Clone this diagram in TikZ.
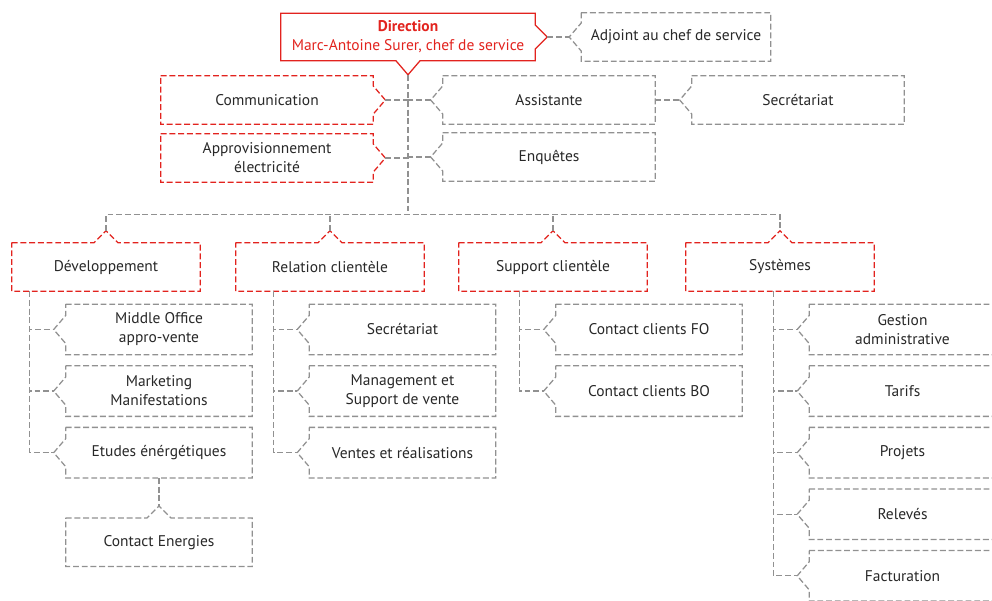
\documentclass[tikz,border=0pt]{standalone}
\usepackage{fontspec}
\setmainfont{PT Sans}
\usepackage{xcolor}
\usepackage{tikz}
\usetikzlibrary{calc, positioning}
\definecolor{dirred}{RGB}{226, 35, 30}
\definecolor{linegray}{RGB}{145, 145, 145}
\definecolor{textgray}{RGB}{40, 40, 40}

% outlines with a pointed tab on one side
\newcommand{\tabtop}[2]{\draw[#1] (#2.north west) -- ($(#2.north)+(-0.3cm,0)$) -- ($(#2.north)+(0,0.3cm)$) coordinate (#2-tip) -- ($(#2.north)+(0.3cm,0)$) -- (#2.north east) -- (#2.south east) -- (#2.south west) -- cycle;}
\newcommand{\tableft}[2]{\draw[#1] (#2.north west) -- (#2.north east) -- (#2.south east) -- (#2.south west) -- ($(#2.west)+(0,-0.35cm)$) -- ($(#2.west)+(-0.3cm,0)$) coordinate (#2-tip) -- ($(#2.west)+(0,0.35cm)$) -- cycle;}
\newcommand{\tabright}[2]{\draw[#1] (#2.north west) -- (#2.north east) -- ($(#2.east)+(0,0.35cm)$) -- ($(#2.east)+(0.3cm,0)$) coordinate (#2-tip) -- ($(#2.east)+(0,-0.35cm)$) -- (#2.south east) -- (#2.south west) -- cycle;}

\begin{document}
\begin{tikzpicture}[
    x=0.025cm, y=-0.025cm,
    font=\fontsize{11}{13.5}\selectfont,
    unit/.style={rectangle, text=textgray, align=center, inner sep=0pt},
    staff/.style={unit, minimum width=5.3cm, minimum height=1.2cm},
    dept/.style={unit, minimum width=4.7cm, minimum height=1.2cm},
    sub/.style={unit, minimum width=4.65cm, minimum height=1.25cm},
    redbox/.style={draw=dirred, line width=0.9pt, dash pattern=on 4.2pt off 2pt},
    graybox/.style={draw=linegray, line width=0.9pt, dash pattern=on 4.2pt off 2pt},
    link/.style={graybox}
]
\useasboundingbox (0,0) rectangle (992,600);
\clip (0,0) rectangle (992,600);

% Direction
\node[unit, text=dirred, minimum width=6.35cm, minimum height=1.175cm] (dir) at (408,37) {\textbf{Direction}\\Marc-Antoine Surer, chef de service};
\draw[draw=dirred, line width=0.9pt] (dir.north west) -- (dir.north east) -- ($(dir.east)+(0,0.3cm)$) -- ($(dir.east)+(0.3cm,0)$) coordinate (dir-rtip) -- ($(dir.east)+(0,-0.3cm)$) -- (dir.south east) -- ($(dir.south)+(0.3cm,0)$) -- ($(dir.south)+(0,-0.35cm)$) coordinate (dir-tip) -- ($(dir.south)+(-0.3cm,0)$) -- (dir.south west) -- cycle;

\node[unit, minimum width=4.725cm, minimum height=1.2cm] (adj) at (676,37) {Adjoint au chef de service};
\tableft{graybox}{adj}

% staff units
\node[staff] (com) at (267,100) {Communication};
\tabright{redbox}{com}
\node[staff] (app) at (267,158) {Approvisionnement\\électricité};
\tabright{redbox}{app}
\node[staff] (ast) at (549,100) {Assistante};
\tableft{graybox}{ast}
\node[staff] (enq) at (549,157) {Enquêtes};
\tableft{graybox}{enq}
\node[staff] (sec) at (798,100) {Secrétariat};
\tableft{graybox}{sec}

% departments
\node[dept] (dev) at (106,267) {Développement};
\tabtop{redbox}{dev}
\node[dept] (rel) at (330,267) {Relation clientèle};
\tabtop{redbox}{rel}
\node[dept] (sup) at (553,267) {Support clientèle};
\tabtop{redbox}{sup}
\node[dept] (sys) at (780,267) {Systèmes};
\tabtop{redbox}{sys}

% Développement
\node[sub] (mo) at (159,329.5) {Middle Office\\appro-vente};
\node[sub, below=0.275cm of mo] (mk) {Marketing\\Manifestations};
\node[sub, below=0.275cm of mk] (etu) {Etudes énérgétiques};
\node[sub, below=1cm of etu, minimum height=1.2cm] (ce) {Contact Energies};
\foreach \n in {mo, mk, etu} {\tableft{graybox}{\n}}
\tabtop{graybox}{ce}

% Relation clientèle
\node[sub] (rsec) at (402.5,329.5) {Secrétariat};
\node[sub, below=0.275cm of rsec] (msv) {Management et\\Support de vente};
\node[sub, below=0.275cm of msv] (ven) {Ventes et réalisations};
\foreach \n in {rsec, msv, ven} {\tableft{graybox}{\n}}

% Support clientèle
\node[sub] (cfo) at (649,329.5) {Contact clients FO};
\node[sub, below=0.275cm of cfo] (cbo) {Contact clients BO};
\foreach \n in {cfo, cbo} {\tableft{graybox}{\n}}

% Systèmes
\node[sub] (ges) at (902.5,329.5) {Gestion\\administrative};
\node[sub, below=0.275cm of ges] (tar) {Tarifs};
\node[sub, below=0.275cm of tar] (pro) {Projets};
\node[sub, below=0.275cm of pro] (rlv) {Relevés};
\node[sub, below=0.275cm of rlv] (fac) {Facturation};
\foreach \n in {ges, tar, pro, rlv, fac} {\tableft{graybox}{\n}}

% connectors
\draw[link] (dir-rtip) -- (adj-tip);
\path (dir-tip) ++(0,140) coordinate (bus);
\draw[link] (dir-tip) -- (bus);
\draw[link] (com-tip) -- (com-tip -| bus);
\draw[link] (app-tip) -- (app-tip -| bus);
\draw[link] (ast-tip) -- (ast-tip -| bus);
\draw[link] (enq-tip) -- (enq-tip -| bus);
\draw[link] (ast.east) -- (sec-tip);
\draw[link] (dev-tip) |- (sys-tip |- bus) -- (sys-tip);
\draw[link] (rel-tip) -- (rel-tip |- bus);
\draw[link] (sup-tip) -- (sup-tip |- bus);

\coordinate (devx) at ($(mo-tip)+(-0.6cm,0)$);
\foreach \n in {mo, mk, etu} {\draw[link] (dev.south -| devx) |- (\n-tip);}
\draw[link] (etu.south) -- (ce-tip);
\coordinate (relx) at ($(rsec-tip)+(-0.6cm,0)$);
\foreach \n in {rsec, msv, ven} {\draw[link] (rel.south -| relx) |- (\n-tip);}
\coordinate (supx) at ($(cfo-tip)+(-0.6cm,0)$);
\foreach \n in {cfo, cbo} {\draw[link] (sup.south -| supx) |- (\n-tip);}
\coordinate (sysx) at ($(ges-tip)+(-0.6cm,0)$);
\foreach \n in {ges, tar, pro, rlv, fac} {\draw[link] (sys.south -| sysx) |- (\n-tip);}

\end{tikzpicture}
\end{document}
